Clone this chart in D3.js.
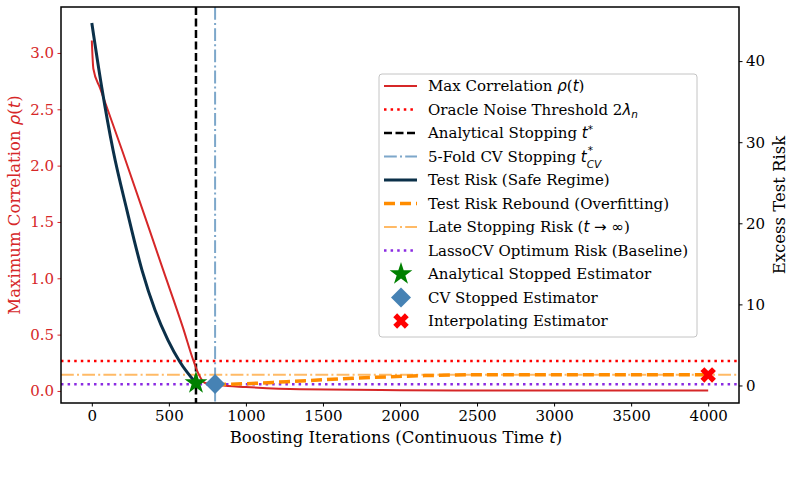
<!DOCTYPE html>
<html>
<head>
<meta charset="utf-8">
<script src="https://cdn.jsdelivr.net/npm/d3@7"></script>
<style>
  body { margin: 0; background: #fff; }
  svg { display: block; font-family: "DejaVu Serif", serif; }
</style>
</head>
<body>
<svg id="chart" width="806" height="485"></svg>
<script>
// ---- data ----
const corrT   = [0, 10, 53, 198, 464, 592, 659, 691, 735, 832, 1000, 1351, 2000, 2519, 4000];
const corrVal = [3.11, 2.86, 2.69, 2.13, 1.07, 0.56, 0.27, 0.156, 0.07, 0.05, 0.035, 0.015, 0.007, 0.004, 0.004];

const riskT   = [0, 64, 138, 228, 326, 410, 494, 572, 676];
const riskVal = [44.7, 36.8, 29.0, 21.6, 14.2, 9.3, 5.6, 2.9, 0.3];

const reboundT   = [800, 1000, 1265, 1695, 2130, 2519, 3000, 4000];
const reboundVal = [0.1, 0.22, 0.47, 0.89, 1.2, 1.33, 1.33, 1.33];

const oracleThreshold = 0.265;   // left axis
const lateRisk = 1.33;           // right axis
const lassoRisk = 0.15;          // right axis
const tStar = 676;
const tCV = 800;
const starPoint = [676, 0.3];
const cvPoint = [800, 0.18];
const interpPoint = [4000, 1.3];

const xTicks = [0, 500, 1000, 1500, 2000, 2500, 3000, 3500, 4000];
const leftTicks = [0, 0.5, 1, 1.5, 2, 2.5, 3];
const rightTicks = [0, 10, 20, 30, 40];

const legendItems = [
  { label: [["Max Correlation "], ["ρ", 1], ["("], ["t", 1], [")"]], kind: "line", color: "#d62728", w: 2, dash: null },
  { label: [["Oracle Noise Threshold 2"], ["λ", 1], ["n", 1, "sub"]], kind: "line", color: "#ff0000", w: 2.5, dash: "2.5,4.1" },
  { label: [["Analytical Stopping "], ["t", 1], ["*", 0, "sup"]], kind: "line", color: "#000", w: 2.5, dash: "8,3.5" },
  { label: [["5-Fold CV Stopping "], ["t", 1]], stack: ["*", "CV"], kind: "line", color: "rgba(70,130,180,0.7)", w: 2, dash: "12.8,3.2,2,3.2" },
  { label: [["Test Risk (Safe Regime)"]], kind: "line", color: "#0b3049", w: 3, dash: null },
  { label: [["Test Risk Rebound (Overfitting)"]], kind: "line", color: "#ff8c00", w: 3.5, dash: "11,5" },
  { label: [["Late Stopping Risk ("], ["t", 1], [" → ∞", 0, "math"], [")"]], kind: "line", color: "rgba(255,140,0,0.6)", w: 2, dash: "12.8,3.2,2,3.2" },
  { label: [["LassoCV Optimum Risk (Baseline)"]], kind: "line", color: "#8a2be2", w: 2.5, dash: "2.5,4.1" },
  { label: [["Analytical Stopped Estimator"]], kind: "star", color: "#008000" },
  { label: [["CV Stopped Estimator"]], kind: "diamond", color: "#4682b4" },
  { label: [["Interpolating Estimator"]], kind: "x", color: "#ff0000" }
];

// ---- layout ----
const margin = { left: 61, right: 67, top: 7, bottom: 82 };
const W = 806, H = 485;
const x0 = margin.left, x1 = W - margin.right, y0 = margin.top, y1 = H - margin.bottom;

const svg = d3.select("#chart");

const x = d3.scaleLinear().domain([-200, 4200]).range([x0, x1]);
const yL = d3.scaleLinear().domain([-0.107, 3.408]).range([y1, y0]);
const yR = d3.scaleLinear().domain([-2.16, 46.67]).range([y1, y0]);

const red = "#d62728";

function mathText(sel, parts, size) {
  parts.forEach(([txt, ital, mode]) => {
    const ts = sel.append("tspan").text(txt);
    if (ital) ts.attr("font-style", "italic").attr("font-family", "DejaVu Sans");
    if (mode === "math") ts.attr("font-family", "DejaVu Sans");
    if (mode === "sub") ts.attr("font-size", size * 0.7).attr("dy", size * 0.2);
    if (mode === "sup") ts.attr("font-size", size * 0.7).attr("dy", -size * 0.35).attr("font-family", "DejaVu Sans");
  });
}

// clip
svg.append("clipPath").attr("id", "clip")
  .append("rect").attr("x", x0).attr("y", y0).attr("width", x1 - x0).attr("height", y1 - y0);
const plot = svg.append("g").attr("clip-path", "url(#clip)");

// horizontal reference lines
plot.append("line")
  .attr("x1", x0).attr("x2", x1).attr("y1", yL(oracleThreshold)).attr("y2", yL(oracleThreshold))
  .attr("stroke", "#ff0000").attr("stroke-width", 2.5).attr("stroke-dasharray", "2.5,4.1");
plot.append("line")
  .attr("x1", x0).attr("x2", x1).attr("y1", yR(lateRisk)).attr("y2", yR(lateRisk))
  .attr("stroke", "rgba(255,140,0,0.6)").attr("stroke-width", 2).attr("stroke-dasharray", "12.8,3.2,2,3.2");
plot.append("line")
  .attr("x1", x0).attr("x2", x1).attr("y1", yR(lassoRisk)).attr("y2", yR(lassoRisk))
  .attr("stroke", "#8a2be2").attr("stroke-width", 2.5).attr("stroke-dasharray", "2.5,4.1");

// vertical stop lines
plot.append("line")
  .attr("x1", x(tStar)).attr("x2", x(tStar)).attr("y1", y0).attr("y2", y1)
  .attr("stroke", "#000").attr("stroke-width", 2.5).attr("stroke-dasharray", "8,3.5");
plot.append("line")
  .attr("x1", x(tCV)).attr("x2", x(tCV)).attr("y1", y0).attr("y2", y1)
  .attr("stroke", "rgba(70,130,180,0.7)").attr("stroke-width", 2).attr("stroke-dasharray", "12.8,3.2,2,3.2");

// curves
const corrLine = d3.line().x((d, i) => x(corrT[i])).y(d => yL(d)).curve(d3.curveMonotoneX);
plot.append("path").datum(corrVal).attr("d", corrLine)
  .attr("fill", "none").attr("stroke", red).attr("stroke-width", 2);

const riskLine = d3.line().x((d, i) => x(riskT[i])).y(d => yR(d)).curve(d3.curveMonotoneX);
plot.append("path").datum(riskVal).attr("d", riskLine)
  .attr("fill", "none").attr("stroke", "#0b3049").attr("stroke-width", 3);

const reboundLine = d3.line().x((d, i) => x(reboundT[i])).y(d => yR(d)).curve(d3.curveMonotoneX);
plot.append("path").datum(reboundVal).attr("d", reboundLine)
  .attr("fill", "none").attr("stroke", "#ff8c00").attr("stroke-width", 3.5).attr("stroke-dasharray", "11,5");

// markers
function marker(g, kind, color, cx, cy) {
  if (kind === "star") {
    g.append("path").attr("d", d3.symbol().type(d3.symbolStar).size(160)())
      .attr("transform", `translate(${cx},${cy})`).attr("fill", color);
  } else if (kind === "diamond") {
    g.append("path").attr("d", d3.symbol().type(d3.symbolSquare).size(200)())
      .attr("transform", `translate(${cx},${cy}) rotate(45)`).attr("fill", color);
  } else if (kind === "x") {
    g.append("path").attr("d", d3.symbol().type(d3.symbolCross).size(150)())
      .attr("transform", `translate(${cx},${cy}) rotate(45)`).attr("fill", color);
  }
}
marker(svg, "star", "#008000", x(starPoint[0]), yR(starPoint[1]));
marker(svg, "diamond", "#4682b4", x(cvPoint[0]), yR(cvPoint[1]));
marker(svg, "x", "#ff0000", x(interpPoint[0]), yR(interpPoint[1]));

// axes
const fs = 15;
const gx = svg.append("g").attr("transform", `translate(0,${y1})`)
  .call(d3.axisBottom(x).tickValues(xTicks).tickSize(3.5).tickPadding(3.5).tickFormat(d3.format("d")));
const gl = svg.append("g").attr("transform", `translate(${x0},0)`)
  .call(d3.axisLeft(yL).tickValues(leftTicks).tickSize(3.5).tickPadding(3.5).tickFormat(d3.format(".1f")));
const gr = svg.append("g").attr("transform", `translate(${x1},0)`)
  .call(d3.axisRight(yR).tickValues(rightTicks).tickSize(3.5).tickPadding(3.5).tickFormat(d3.format("d")));
[gx, gl, gr].forEach(g => {
  g.select(".domain").remove();
  g.selectAll("text").attr("font-family", "DejaVu Serif").attr("font-size", fs).attr("fill", "#000");
  g.selectAll("line").attr("stroke", "#000").attr("stroke-width", 1);
});
gl.selectAll("text").attr("fill", red);
gl.selectAll("line").attr("stroke", red);

// frame
svg.append("rect").attr("x", x0).attr("y", y0).attr("width", x1 - x0).attr("height", y1 - y0)
  .attr("fill", "none").attr("stroke", "#000").attr("stroke-width", 1.5);

// axis labels
const lfs = 16.5;
const xl = svg.append("text").attr("x", (x0 + x1) / 2 - 4).attr("y", 443)
  .attr("text-anchor", "middle").attr("font-size", lfs);
mathText(xl, [["Boosting Iterations (Continuous Time "], ["t", 1], [")"]], lfs);

const yll = svg.append("text").attr("transform", `translate(20,${(y0 + y1) / 2}) rotate(-90)`)
  .attr("text-anchor", "middle").attr("font-size", lfs).attr("fill", red);
mathText(yll, [["Maximum Correlation "], ["ρ", 1], ["("], ["t", 1], [")"]], lfs);

svg.append("text").attr("transform", `translate(785,${(y0 + y1) / 2}) rotate(-90)`)
  .attr("text-anchor", "middle").attr("font-size", lfs).text("Excess Test Risk");

// legend
const lgfs = 15;
const lg = svg.append("g").attr("transform", "translate(379,74)");
lg.append("rect").attr("width", 318).attr("height", 263).attr("rx", 3)
  .attr("fill", "rgba(255,255,255,0.8)").attr("stroke", "#c4c4c4").attr("stroke-width", 1);
legendItems.forEach((it, i) => {
  const cy = 12 + i * 23.5;
  if (it.kind === "line") {
    const ln = lg.append("line").attr("x1", 5).attr("x2", 38).attr("y1", cy).attr("y2", cy)
      .attr("stroke", it.color).attr("stroke-width", it.w);
    if (it.dash) ln.attr("stroke-dasharray", it.dash);
  } else {
    marker(lg, it.kind, it.color, 22, cy);
  }
  const t = lg.append("text").attr("x", 49).attr("y", cy + 5).attr("font-size", lgfs);
  mathText(t, it.label, lgfs);
  if (it.stack) {
    // stacked super/subscript (t*_CV)
    const endX = 49 + t.node().getComputedTextLength() + 1;
    lg.append("text").attr("x", endX).attr("y", cy - 2.5).attr("font-size", lgfs * 0.7)
      .attr("font-family", "DejaVu Sans").text(it.stack[0]);
    lg.append("text").attr("x", endX - 1).attr("y", cy + 11).attr("font-size", lgfs * 0.7)
      .attr("font-family", "DejaVu Sans").attr("font-style", "italic").text(it.stack[1]);
  }
});
</script>
</body>
</html>
